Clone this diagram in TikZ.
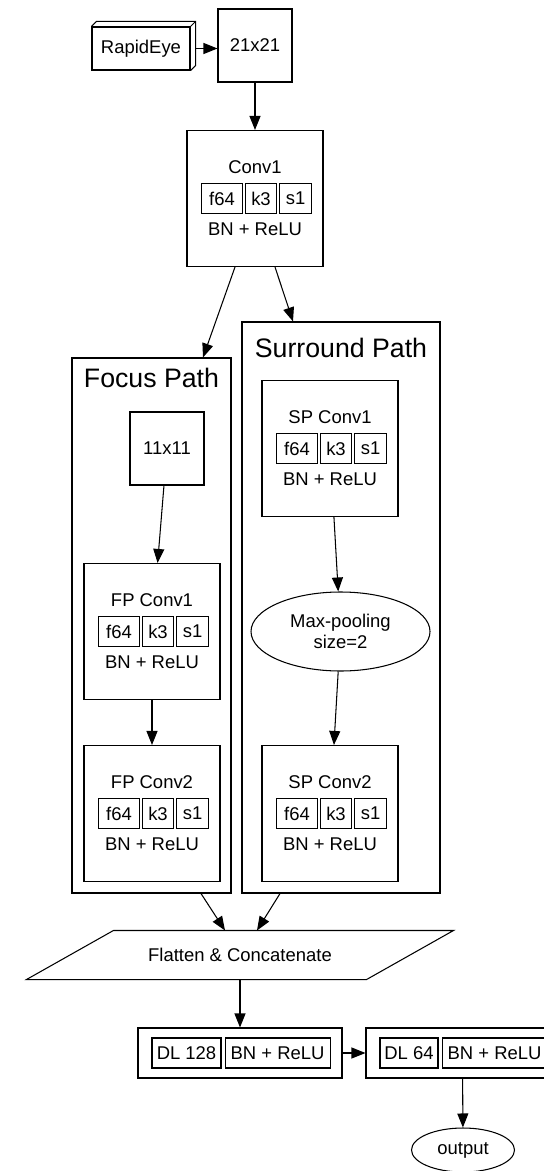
\documentclass[tikz,border=0pt]{standalone}
\usepackage{fontspec}
\setmainfont{Liberation Sans}
\usetikzlibrary{arrows.meta, positioning, shapes.geometric}

\begin{document}
\begin{tikzpicture}[x=0.2mm, y=-0.2mm, >={Triangle[length=2.8mm, width=2.2mm]},
  line width=0.6pt,
  lbl/.style={font=\fontsize{10.5}{12.3}\selectfont, inner sep=0pt},
  ttl/.style={font=\fontsize{15.2}{18}\selectfont, inner sep=0pt},
  box/.style={draw, rectangle, inner sep=0pt},
  convbox/.style={box, minimum width=27.2mm, minimum height=27.2mm},
  cell/.style={box, font=\fontsize{10.5}{12.3}\selectfont, minimum height=6mm},
  cluster/.style={draw, rectangle, inner sep=0pt}]
  \useasboundingbox (0,0) rectangle (543,1171);

  % Clusters
  \node[cluster, minimum width=31.8mm, minimum height=107mm] (focus) at (151.5,625.5) {};
  \node[ttl] (focustitle) at (151.5,378) {Focus Path};
  \node[cluster, minimum width=39.6mm, minimum height=114.2mm] (surround) at (341,607.5) {};
  \node[ttl] (surroundtitle) at (341,348) {Surround Path};

  % Input
  \node[box, lbl, minimum width=19.6mm, minimum height=8.6mm] (rapid) at (141,48.5) {RapidEye};
  \draw (rapid.north west) -- ++(1mm,1mm) -| ([shift={(1mm,1mm)}]rapid.south east) -- (rapid.south east);
  \draw (rapid.north east) -- ++(1mm,1mm);
  \node[box, lbl, minimum width=14.8mm, minimum height=14.6mm] (r21) at (255,45.5) {21x21};

  % Conv1
  \begin{scope}[shift={(255,198.5)}, name prefix=conv1-]
  \node[convbox] (box) at (0,0) {};
  \node[lbl] (name) at (0,-31) {Conv1};
  \node[cell, minimum width=6.2mm] (k) at (6,0) {k3};
  \node[cell, minimum width=8.2mm, left=0.4mm of k] (f) {f64};
  \node[cell, minimum width=6.4mm, right=0.4mm of k] (s) {s1};
  \node[lbl] (act) at (0,31) {BN + ReLU};
  \end{scope}

  % Focus path
  \node[box, lbl, minimum width=14.8mm, minimum height=14.6mm] (r11) at (167,448.5) {11x11};
  \begin{scope}[shift={(152,631.5)}, name prefix=fpc1-]
  \node[convbox] (box) at (0,0) {};
  \node[lbl] (name) at (0,-31) {FP Conv1};
  \node[cell, minimum width=6.2mm] (k) at (6,0) {k3};
  \node[cell, minimum width=8.2mm, left=0.4mm of k] (f) {f64};
  \node[cell, minimum width=6.4mm, right=0.4mm of k] (s) {s1};
  \node[lbl] (act) at (0,31) {BN + ReLU};
  \end{scope}
  \begin{scope}[shift={(152,813.5)}, name prefix=fpc2-]
  \node[convbox] (box) at (0,0) {};
  \node[lbl] (name) at (0,-31) {FP Conv2};
  \node[cell, minimum width=6.2mm] (k) at (6,0) {k3};
  \node[cell, minimum width=8.2mm, left=0.4mm of k] (f) {f64};
  \node[cell, minimum width=6.4mm, right=0.4mm of k] (s) {s1};
  \node[lbl] (act) at (0,31) {BN + ReLU};
  \end{scope}

  % Surround path
  \begin{scope}[shift={(330,448.5)}, name prefix=spc1-]
  \node[convbox] (box) at (0,0) {};
  \node[lbl] (name) at (0,-31) {SP Conv1};
  \node[cell, minimum width=6.2mm] (k) at (6,0) {k3};
  \node[cell, minimum width=8.2mm, left=0.4mm of k] (f) {f64};
  \node[cell, minimum width=6.4mm, right=0.4mm of k] (s) {s1};
  \node[lbl] (act) at (0,31) {BN + ReLU};
  \end{scope}
  \node[draw, ellipse, lbl, align=center, minimum width=35.8mm, minimum height=15.8mm] (pool) at (340.5,631.5) {Max-pooling\\size=2};
  \begin{scope}[shift={(330,813.5)}, name prefix=spc2-]
  \node[convbox] (box) at (0,0) {};
  \node[lbl] (name) at (0,-31) {SP Conv2};
  \node[cell, minimum width=6.2mm] (k) at (6,0) {k3};
  \node[cell, minimum width=8.2mm, left=0.4mm of k] (f) {f64};
  \node[cell, minimum width=6.4mm, right=0.4mm of k] (s) {s1};
  \node[lbl] (act) at (0,31) {BN + ReLU};
  \end{scope}

  % Merge and dense layers
  \node[lbl, minimum width=85.2mm, minimum height=9.6mm] (flat) at (240,955) {Flatten \& Concatenate};
  \draw ([xshift=17.4mm]flat.north west) -- (flat.north east) -- ([xshift=-17.4mm]flat.south east) -- (flat.south west) -- cycle;
  \node[box, minimum width=40.8mm, minimum height=10mm] (dl128) at (240,1053) {};
  \node[cell, minimum width=13.8mm] (dl128a) at (186.5,1053) {DL 128};
  \node[cell, minimum width=21mm, right=0.6mm of dl128a] (dl128b) {BN + ReLU};
  \node[box, minimum width=38.6mm, minimum height=10mm] (dl64) at (462.5,1053) {};
  \node[cell, minimum width=11.6mm] (dl64a) at (409,1053) {DL 64};
  \node[cell, minimum width=21mm, right=0.6mm of dl64a] (dl64b) {BN + ReLU};
  \node[draw, ellipse, lbl, minimum width=20.6mm, minimum height=8.8mm] (out) at (463,1150) {output};

  % Connectors
  \draw[->] ([xshift=1mm]rapid.east) -- (rapid.east -| r21.west);
  \draw[->] (r21) -- (conv1-box);
  \draw[->] ([xshift=-4mm]conv1-box.south) -- ([xshift=10.3mm]focus.north);
  \draw[->] ([xshift=4mm]conv1-box.south) -- ([xshift=-9.6mm]surround.north);
  \draw[->] (r11) -- (fpc1-box);
  \draw[->] (fpc1-box) -- (fpc2-box);
  \draw[->] (spc1-box) -- (pool);
  \draw[->] (pool) -- (spc2-box);
  \draw[->] ([xshift=9.9mm]focus.south) -- ([xshift=-3mm]flat.north);
  \draw[->] ([xshift=-12.2mm]surround.south) -- ([xshift=3.4mm]flat.north);
  \draw[->] (flat.south) -- (dl128);
  \draw[->] (dl128) -- (dl64);
  \draw[->] (dl64) -- (out);
\end{tikzpicture}
\end{document}
